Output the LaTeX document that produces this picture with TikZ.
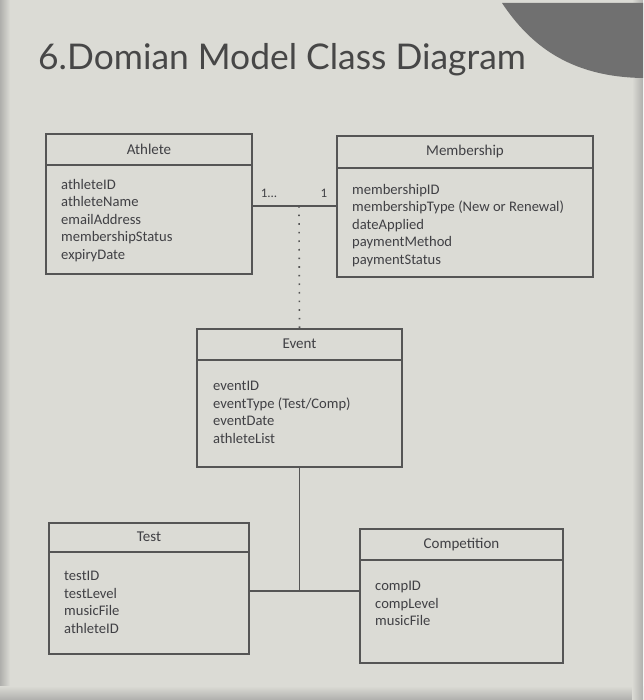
\documentclass[tikz,border=0pt]{standalone}
\usepackage{fontspec}
\setmainfont{Carlito}
\newfontfamily\titlefont{Lato}
\definecolor{bgc}{RGB}{219,219,213}
\definecolor{linec}{RGB}{85,85,85}
\definecolor{txtc}{RGB}{64,64,68}
\definecolor{corner}{RGB}{112,112,112}
\definecolor{edgec}{RGB}{175,175,172}
\begin{document}
\begin{tikzpicture}[x=1pt,y=-1pt,
  classbox/.style={draw=linec, line width=1.4pt, inner sep=0pt, minimum width=#1},
  hdr/.style={font=\fontsize{15}{17}\selectfont, text=txtc, inner sep=0pt},
  attrs/.style={font=\fontsize{14.6}{17.5}\selectfont, text=txtc, inner sep=0pt, anchor=north west, align=left},
  conn/.style={draw=linec, line width=1.4pt},
  dotconn/.style={draw=linec, line width=1.6pt, dash pattern=on 1.6pt off 7pt},
  mult/.style={font=\fontsize{13}{14}\selectfont, text=txtc, inner sep=0pt}]
% background
\fill[bgc] (0,0) rectangle (643,700);
\useasboundingbox (0,0) rectangle (643,700);
\shade[left color=edgec, right color=bgc] (0,0) rectangle (10,700);
\shade[top color=bgc, bottom color=edgec] (0,686) rectangle (643,700);
\shade[left color=bgc, right color=edgec] (632,0) rectangle (643,700);
% corner decoration
\fill[corner] (502,3) .. controls (530,45) and (570,77) .. (643,78) -- (643,3) -- cycle;
% title
\node[font=\titlefont\fontsize{35.4}{40}\selectfont, text=black!72, anchor=west, inner sep=0pt] (title) at (38,60) {6.Domian Model Class Diagram};

% Athlete
\node[classbox=206pt, minimum height=140pt] (athlete) at (149,204) {};
\draw[conn] (46,165) -- (252,165);
\node[hdr] (athleteH) at (149,149) {Athlete};
\node[attrs] (athleteA) at (61,179) {athleteID\\athleteName\\emailAddress\\membershipStatus\\expiryDate};

% Membership
\node[classbox=256pt, minimum height=141pt] (membership) at (465,206.5) {};
\draw[conn] (337,168) -- (593,168);
\node[hdr] (membershipH) at (465,152) {Membership};
\node[attrs] (membershipA) at (352,184) {membershipID\\membershipType (New or Renewal)\\dateApplied\\paymentMethod\\paymentStatus};

% Event
\node[classbox=205pt, minimum height=138pt] (event) at (299.5,398) {};
\draw[conn] (197,360) -- (402,360);
\node[hdr] (eventH) at (299.5,344) {Event};
\node[attrs] (eventA) at (213,381) {eventID\\eventType (Test/Comp)\\eventDate\\athleteList};

% Test
\node[classbox=200pt, minimum height=131pt] (test) at (149,588.5) {};
\draw[conn] (49,552) -- (249,552);
\node[hdr] (testH) at (149,537) {Test};
\node[attrs] (testA) at (64,571) {testID\\testLevel\\musicFile\\athleteID};

% Competition
\node[classbox=203pt, minimum height=134pt] (competition) at (461.5,596) {};
\draw[conn] (360,560) -- (563,560);
\node[hdr] (competitionH) at (461.5,545) {Competition};
\node[attrs] (competitionA) at (375,581) {compID\\compLevel\\musicFile};

% association Athlete - Membership
\coordinate (assoc) at (299,206);
\draw[conn] (athlete.east |- assoc) -- (membership.west |- assoc);
\node[mult] (m1) at (269,193) {1...};
\node[mult] (m2) at (324,193) {1};
\draw[dotconn] (assoc) -- (event.north);

% Event - Test/Competition
\coordinate (junc) at (299,591);
\draw[conn] (event.south) -- (event.south |- junc);
\draw[conn] (test.east |- junc) -- (competition.west |- junc);
\end{tikzpicture}
\end{document}
